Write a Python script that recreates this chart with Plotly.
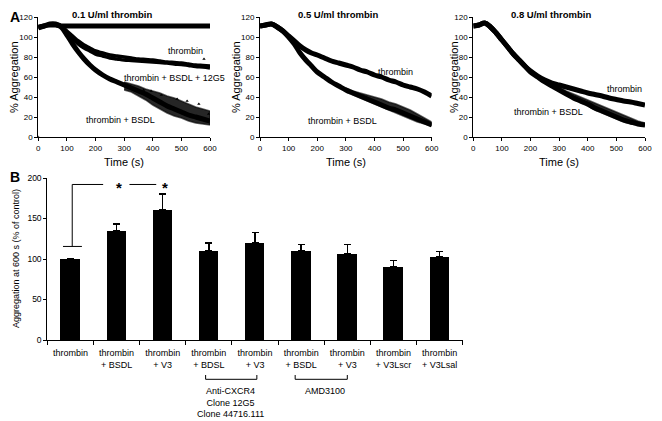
import plotly.graph_objects as go

# ---- Panel A: aggregation traces (% aggregation vs time, s) ----
t = [0, 20, 40, 60, 80, 100, 120, 140, 160, 180, 200, 225, 250, 275,
     300, 325, 350, 375, 400, 425, 450, 475, 500, 525, 550, 575, 600]
t_band = [300, 325, 350, 375, 400, 425, 450, 475, 500, 525, 550, 575, 600]

# 0.1 U/ml thrombin
p1_bsdl = [109, 111, 112, 112, 111, 111, 111, 111, 111, 111, 111, 111, 111, 111,
           111, 111, 111, 111, 111, 111, 111, 111, 111, 111, 111, 111, 111]
p1_thrombin = [110, 111, 113, 113, 111, 106, 101, 96, 92, 89, 86, 84, 82, 81,
               80, 79, 78, 77.5, 77, 76, 75, 74.5, 74, 73, 72, 71.5, 71]
p1_12g5 = [110, 111, 113, 113, 110, 104, 98, 93, 89, 86, 83, 81, 79, 78,
           77, 76.5, 76, 75.5, 75, 74.5, 74, 73, 72.5, 71.5, 70.5, 70, 69]
p1_thr_bsdl = [110, 111, 113, 113, 110, 102, 93, 85, 78, 72, 67, 62, 58, 55,
               52, 49, 46, 43, 39, 35, 31, 28, 25, 22, 20, 18, 16]
p1_band_hi = [55, 53, 51, 48, 46, 44, 41, 39, 36, 33, 30, 28, 26]
p1_band_lo = [47, 45, 41, 37, 32, 28, 24, 21, 19, 16, 14, 13, 12]
p1_out_t = [368, 394, 430, 485, 520, 561, 579, 595, 0]
p1_out_v = [47, 46, 42, 38, 36, 33, 78, 23, 0]

# 0.5 U/ml thrombin
p2_thrombin = [111, 112, 113, 110, 106, 101, 96, 91, 87, 84, 82, 79, 76, 74,
               72, 70, 67, 65, 62, 60, 57, 55, 52, 50, 48, 45, 41]
p2_thr_bsdl = [111, 112, 113, 110, 106, 100, 93, 84, 77, 71, 65, 60, 55, 51,
               47, 44, 41, 38, 35, 32, 29, 27, 24, 21, 18, 15, 12]
p2_band_hi = [49, 46, 44, 42, 40, 38, 35, 33, 30, 27, 23, 19, 15]
p2_band_lo = [45, 42, 39, 36, 33, 30, 27, 24, 21, 18, 15, 13, 11]

# 0.8 U/ml thrombin
p3_thrombin = [111, 112, 114, 110, 104, 97, 90, 83, 77, 71, 66, 61, 57, 54,
               52, 50, 48, 46, 44, 42.5, 41, 39, 37.5, 36, 35, 33.5, 32]
p3_thr_bsdl = [111, 112, 114, 110, 104, 97, 90, 83, 77, 71, 65, 60, 55, 51,
               47, 43, 39, 36, 33, 29, 26, 23, 20, 17, 15, 13, 12]
p3_band_hi = [50, 46, 43, 40, 37, 34, 31, 28, 25, 22, 19, 16, 14]
p3_band_lo = [46, 42, 38, 34, 31, 27, 24, 21, 18, 15, 13, 12, 11]

panel_titles = ["0.1 U/ml thrombin", "0.5 U/ml thrombin", "0.8 U/ml thrombin"]

# ---- Panel B: aggregation at 600 s (% of control) ----
bar_labels = ["thrombin", "thrombin<br>+ BSDL", "thrombin<br>+ V3",
              "thrombin<br>+ BDSL", "thrombin<br>+ V3", "thrombin<br>+ BSDL",
              "thrombin<br>+ V3", "thrombin<br>+ V3Lscr", "thrombin<br>+ V3Lsal"]
bar_values = [100, 135, 161, 110, 120, 110, 106, 90, 103]
bar_errors = [0, 8, 19, 10, 13, 8, 12, 8, 6]

FONT = "Liberation Sans, Arial, sans-serif"
# page body has an 8px margin, so the figure is a bit smaller than the window
OFF = 8
W, H = 662 - OFF, 421 - OFF


def px(x):
    return (x - OFF) / W


def py(y):
    return 1 - (y - OFF) / H


fig = go.Figure()


def curve(x, y, ax, width=5):
    fig.add_trace(go.Scatter(x=x, y=y, mode="lines", xaxis=ax[0], yaxis=ax[1],
                             line=dict(color="black", width=width, shape="spline"),
                             showlegend=False, hoverinfo="skip"))


def band(hi, lo, ax):
    fig.add_trace(go.Scatter(x=t_band + t_band[::-1], y=hi + lo[::-1], mode="lines",
                             xaxis=ax[0], yaxis=ax[1], fill="toself",
                             fillcolor="rgba(0,0,0,0.85)", line=dict(color="rgba(0,0,0,0.6)", width=1.5),
                             showlegend=False, hoverinfo="skip"))


a1, a2, a3 = ("x", "y"), ("x2", "y2"), ("x3", "y3")
curve(t, p1_bsdl, a1)
curve(t, p1_thrombin, a1, 3.5)
curve(t, p1_12g5, a1, 3.5)
band(p1_band_hi, p1_band_lo, a1)
curve(t, p1_thr_bsdl, a1)
fig.add_trace(go.Scatter(x=p1_out_t, y=p1_out_v, mode="markers", xaxis="x", yaxis="y",
                         marker=dict(color="black", size=3, symbol="triangle-up"),
                         showlegend=False, hoverinfo="skip"))

curve(t, p2_thrombin, a2)
band(p2_band_hi, p2_band_lo, a2)
curve(t, p2_thr_bsdl, a2)

curve(t, p3_thrombin, a3)
band(p3_band_hi, p3_band_lo, a3)
curve(t, p3_thr_bsdl, a3)

xb = list(range(len(bar_values)))
fig.add_trace(go.Bar(x=xb, y=bar_values, xaxis="x4", yaxis="y4", width=0.42,
                     marker=dict(color="black", line=dict(width=0)),
                     error_y=dict(type="data", array=bar_errors, arrayminus=[0] * len(bar_errors),
                                  symmetric=False, color="black", thickness=1.5, width=3.5),
                     showlegend=False, hoverinfo="skip"))

axis_common = dict(showline=True, linecolor="black", linewidth=1, ticks="outside",
                   ticklen=3, tickcolor="black", showgrid=False, zeroline=False,
                   automargin=False, tickfont=dict(family=FONT, size=8, color="black"))

ya_dom = [py(137), py(17)]
x_doms = [[px(38.3), px(210)], [px(260), px(431.7)], [px(473.3), px(645)]]
layout = dict(width=W, height=H, autosize=False, margin=dict(l=0, r=0, t=0, b=0, pad=0),
              plot_bgcolor="white", paper_bgcolor="white", bargap=0,
              font=dict(family=FONT, color="black"))
for i, dom in enumerate(x_doms):
    s = "" if i == 0 else str(i + 1)
    layout["xaxis" + s] = dict(axis_common, domain=dom, range=[0, 600], tickvals=[0, 100, 200, 300, 400, 500, 600],
                               anchor="y" + s)
    layout["yaxis" + s] = dict(axis_common, domain=ya_dom, range=[0, 120], tickvals=[0, 20, 40, 60, 80, 100, 120],
                               anchor="x" + s)

layout["xaxis4"] = dict(axis_common, domain=[px(47.3), px(462.7)], range=[-0.5, 8.5], anchor="y4",
                        tickvals=xb, ticktext=bar_labels, ticks="", ticklabelstandoff=4,
                        tickfont=dict(family=FONT, size=9, color="black"),
                        minor=dict(tickvals=[i - 0.5 for i in range(len(bar_values) + 1)],
                                   ticks="outside", ticklen=4, tickcolor="black"))
layout["yaxis4"] = dict(axis_common, domain=[py(340), py(178)], range=[0, 200],
                        tickvals=[0, 50, 100, 150, 200], anchor="x4",
                        tickfont=dict(family=FONT, size=8.5, color="black"))

ann = []


def note(text, x, y, xref="paper", yref="paper", size=9, bold=False, **kw):
    if bold:
        text = "<b>" + text + "</b>"
    kw.setdefault("xanchor", "center")
    kw.setdefault("yanchor", "middle")
    ann.append(dict(text=text, x=x, y=y, xref=xref, yref=yref, showarrow=False,
                    font=dict(family=FONT, size=size, color="black"), **kw))


# panel letters
note("A", px(8), py(17), size=14, bold=True, xanchor="left")
note("B", px(8), py(177), size=14, bold=True, xanchor="left")

# panel A titles and axis titles
title_x = [112, 338, 551]
yt_x = [14, 236, 454]
for i in range(3):
    note(panel_titles[i], px(title_x[i]), py(14.5), size=9.5, bold=True)
    note("% Aggregation", px(yt_x[i]), py(77), size=11, textangle=-90)
    note("Time (s)", (x_doms[i][0] + x_doms[i][1]) / 2, py(162), size=11)

# curve labels
note("BSDL", 635, 104, "x", "y", xanchor="right")
note("thrombin", 584, 86, "x", "y", xanchor="right")
note("thrombin + BSDL + 12G5", 292, 59, "x", "y", xanchor="left")
note("thrombin + BSDL", 286, 17, "x", "y")
note("thrombin", 474, 65, "x2", "y2")
note("thrombin + BSDL", 288, 16, "x2", "y2")
note("thrombin", 530, 48, "x3", "y3")
note("thrombin + BSDL", 263, 25, "x3", "y3")

# panel B
note("Aggregation at 600 s (% of control)", px(16), py(259), size=9, textangle=-90)
note("*", 1.06, 192, "x4", "y4", size=15, bold=True, yshift=-3)
note("*", 2.05, 192, "x4", "y4", size=15, bold=True, yshift=-3)
note("Anti-CXCR4<br>Clone 12G5<br>Clone 44716.111", 3.46, py(402), "x4", "paper")
note("AMD3100", 5.51, py(391), "x4", "paper")
layout["annotations"] = ann

shapes = []
line = dict(color="black", width=1)
for x0, x1, y0, y1 in [(-0.16, 0.25, 115.5, 115.5), (0.04, 0.04, 115.5, 192),
                       (0.04, 0.71, 192, 192), (1.28, 1.86, 192, 192)]:
    shapes.append(dict(type="line", xref="x4", yref="y4", x0=x0, x1=x1, y0=y0, y1=y1, line=line))
yb, yt = py(379.3), py(375)
for x0, x1 in [(2.93, 4.04), (4.87, 6.0)]:
    shapes.append(dict(type="path", xref="x4", yref="paper", line=line,
                       path=f"M {x0},{yt} L {x0},{yb} L {x1},{yb} L {x1},{yt}"))
layout["shapes"] = shapes

fig.update_layout(**layout)
fig.write_html("out.html")
